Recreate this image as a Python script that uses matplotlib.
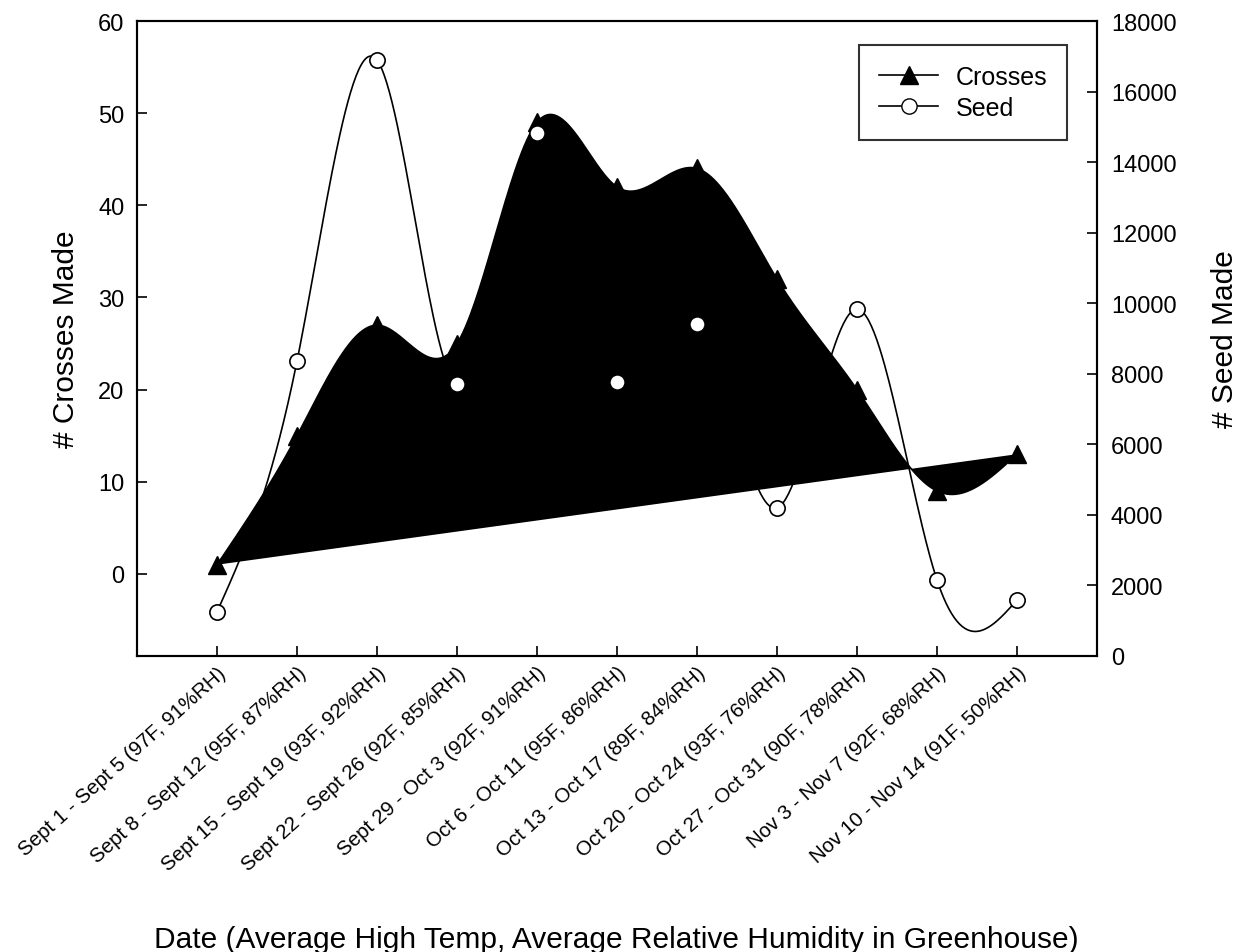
import numpy as np
import matplotlib
matplotlib.use('Agg')
import matplotlib.pyplot as plt

plt.rcParams['font.family'] = ['Liberation Sans', 'DejaVu Sans']

# weekly periods with greenhouse conditions
dates = ["Sept 1 - Sept 5 (97F, 91%RH)", "Sept 8 - Sept 12 (95F, 87%RH)",
         "Sept 15 - Sept 19 (93F, 92%RH)", "Sept 22 - Sept 26 (92F, 85%RH)",
         "Sept 29 - Oct 3 (92F, 91%RH)", "Oct 6 - Oct 11 (95F, 86%RH)",
         "Oct 13 - Oct 17 (89F, 84%RH)", "Oct 20 - Oct 24 (93F, 76%RH)",
         "Oct 27 - Oct 31 (90F, 78%RH)", "Nov 3 - Nov 7 (92F, 68%RH)",
         "Nov 10 - Nov 14 (91F, 50%RH)"]
crosses = [1, 15, 27, 25, 49, 42, 44, 32, 20, 9, 13]
seed = [1250, 8360, 16890, 7700, 14820, 7770, 9410, 4200, 9830, 2150, 1590]


def natural_spline(x, y, n=600):
    # natural cubic spline, like SigmaPlot's "spline curve" line
    x = np.asarray(x, float)
    y = np.asarray(y, float)
    m = len(x)
    h = np.diff(x)
    A = np.zeros((m, m))
    b = np.zeros(m)
    A[0, 0] = A[-1, -1] = 1
    for i in range(1, m - 1):
        A[i, i - 1] = h[i - 1]
        A[i, i] = 2 * (h[i - 1] + h[i])
        A[i, i + 1] = h[i]
        b[i] = 6 * ((y[i + 1] - y[i]) / h[i] - (y[i] - y[i - 1]) / h[i - 1])
    M = np.linalg.solve(A, b)
    xs = np.linspace(x[0], x[-1], n)
    k = np.clip(np.searchsorted(x, xs) - 1, 0, m - 2)
    t0 = x[k + 1] - xs
    t1 = xs - x[k]
    hk = h[k]
    ys = (M[k] * t0 ** 3 + M[k + 1] * t1 ** 3) / (6 * hk) \
        + (y[k] / hk - M[k] * hk / 6) * t0 + (y[k + 1] / hk - M[k + 1] * hk / 6) * t1
    return xs, ys


x = np.arange(len(dates))

fig = plt.figure(figsize=(12.41, 9.53), dpi=100)
ax = fig.add_axes([0.1104, 0.3106, 0.7736, 0.6663])
ax2 = ax.twinx()

# crosses: spline curve closed back to first point and filled black
cx, cy = natural_spline(x, crosses)
ax.fill(cx, cy, color='black', lw=0)
ax.plot(cx, cy, color='black', lw=1.2)
ax.plot(x, crosses, ls='none', color='black', marker='^', ms=12.5)

sx, sy = natural_spline(x, seed)
ax2.plot(sx, sy, color='black', lw=1.2)
ax2.plot(x, seed, ls='none', marker='o', ms=11, mfc='white', mec='black', mew=1.2)

ax.set_xlim(-1, 11)
ax.set_ylim(-8.9, 60)
ax2.set_ylim(0, 18000)
ax.set_yticks(np.arange(0, 61, 10))
ax2.set_yticks(np.arange(0, 18001, 2000))
ax.set_xticks(x)

for a in (ax, ax2):
    for s in a.spines.values():
        s.set_linewidth(1.5)
ax.tick_params(direction='in', length=7, width=1.2, labelsize=17, pad=9)
ax2.tick_params(direction='in', length=7, width=1.2, labelsize=17, pad=10)
ax.tick_params(axis='x', pad=5)
ax.set_xticklabels(dates, rotation=42, ha='right', va='top', rotation_mode='anchor', fontsize=14.8)

ax.set_ylabel('# Crosses Made', fontsize=21.5, labelpad=13)
ax2.set_ylabel('# Seed Made', fontsize=21.5, labelpad=25)
fig.text(0.497, 0.0135, 'Date (Average High Temp, Average Relative Humidity in Greenhouse)',
         fontsize=21.5, ha='center', va='center')

h1 = plt.Line2D([], [], color='black', lw=1.2, marker='^', ms=12.5)
h2 = plt.Line2D([], [], color='black', lw=1.2, marker='o', ms=11, mfc='white', mec='black')
leg = ax2.legend([h1, h2], ['Crosses', 'Seed'], loc='upper right', bbox_to_anchor=(0.9688, 0.9622),
                 borderaxespad=0, fontsize=18, frameon=True, fancybox=False, edgecolor='black',
                 borderpad=0.8, labelspacing=0.26, handlelength=2.36, handletextpad=0.68)
leg.get_frame().set_linewidth(1.5)

fig.savefig('out.png', dpi=100)
